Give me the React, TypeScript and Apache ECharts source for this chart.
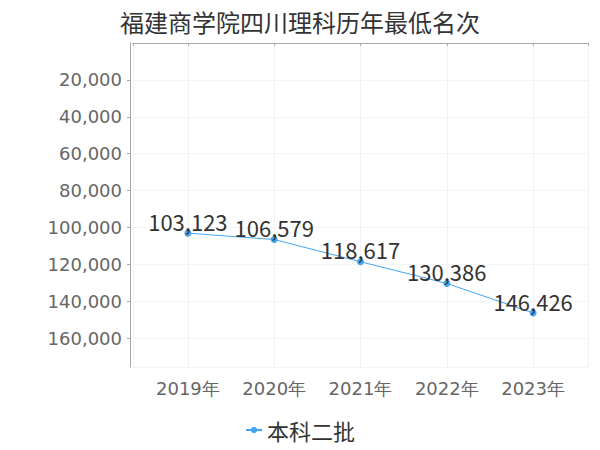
import React, { useEffect, useRef } from "react";
import * as echarts from "echarts";

const titleText = "福建商学院四川理科历年最低名次";
const seriesName = "本科二批";
const years = [2019, 2020, 2021, 2022, 2023];
const ranks = [103123, 106579, 118617, 130386, 146426];
const yInterval = 20000;

export default function App() {
  const ref = useRef<HTMLDivElement>(null);
  useEffect(() => {
    if (!ref.current) return;
    const chart = echarts.init(ref.current, undefined, { renderer: "svg" });
    const cjk = "Noto Sans CJK SC";
    const latin = "DejaVu Sans";
    chart.setOption({
      animation: false,
      backgroundColor: "#ffffff",
      title: {
        text: titleText,
        left: "center",
        top: 4,
        textStyle: { fontSize: 24, fontWeight: "normal", color: "#333", fontFamily: cjk },
      },
      legend: {
        bottom: 4,
        left: "center",
        itemWidth: 16,
        itemHeight: 8,
        itemGap: 10,
        data: [{ name: seriesName }],
        textStyle: { fontSize: 22, color: "#333", fontFamily: cjk },
      },
      grid: { left: 133, right: 12, top: 43, bottom: 83, containLabel: false },
      xAxis: {
        type: "value",
        min: (v: any) => v.min - 0.636,
        max: (v: any) => v.max + 0.636,
        minInterval: 1,
        maxInterval: 1,
        offset: 5,
        axisLine: { show: true, lineStyle: { color: "#aaa" } },
        axisTick: { show: true, length: 3, lineStyle: { color: "#aaa" } },
        axisLabel: {
          margin: 7,
          fontSize: 18,
          color: "#666",
          fontFamily: latin,
          formatter: (v: number) =>
            Math.abs(v - Math.round(v)) < 1e-6 ? `${Math.round(v)}年` : "",
        },
        splitLine: { show: true, lineStyle: { color: "#f3f3f3" } },
      },
      yAxis: {
        type: "value",
        inverse: true,
        min: 0,
        max: (v: any) => v.max * 1.2,
        interval: yInterval,
        offset: 3,
        axisLine: { show: true, lineStyle: { color: "#aaa" } },
        axisTick: { show: true, length: 3, lineStyle: { color: "#aaa" } },
        axisLabel: {
          margin: 8,
          fontSize: 18,
          color: "#666",
          fontFamily: latin,
          showMinLabel: false,
          showMaxLabel: false,
          formatter: (v: number) => v.toLocaleString("en-US"),
        },
        splitLine: { show: true, lineStyle: { color: "#f3f3f3" } },
      },
      series: [
        {
          name: seriesName,
          type: "line",
          data: years.map((y, i) => [y, ranks[i]]),
          symbol: "circle",
          symbolSize: 7,
          itemStyle: { color: "#42a5f5" },
          lineStyle: { color: "#42a5f5", width: 1 },
          label: {
            show: true,
            position: "top",
            distance: -2,
            fontSize: 22,
            color: "#333",
            fontFamily: cjk,
            formatter: (p: any) => Number(p.value[1]).toLocaleString("en-US"),
          },
        },
      ],
    });
    return () => chart.dispose();
  }, []);
  return (
    <div
      ref={ref}
      style={{ position: "fixed", left: 0, top: 0, width: 600, height: 450 }}
    />
  );
}
